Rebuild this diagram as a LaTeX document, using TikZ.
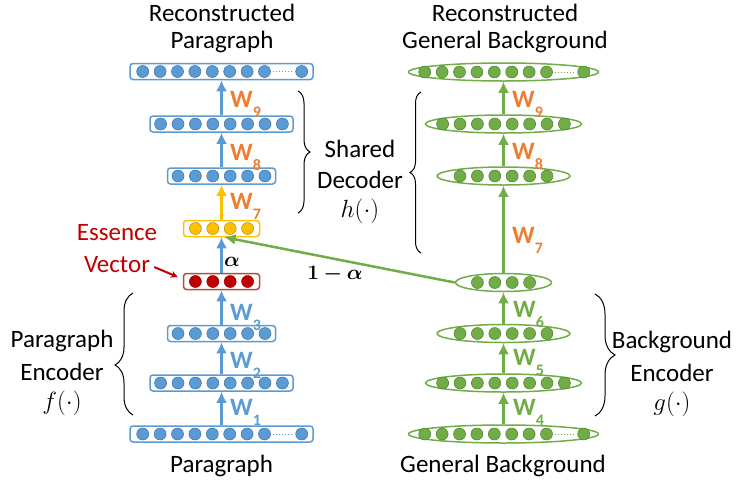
\documentclass[tikz,border=0pt]{standalone}
\usepackage{fontspec}
\setmainfont{Carlito}
\usepackage{amsmath}
\usepackage{bm}
\usetikzlibrary{shapes.geometric,arrows.meta,decorations.pathreplacing}

\definecolor{pblue}{HTML}{5B9BD5}
\definecolor{pbluedk}{HTML}{41719C}
\definecolor{pgreen}{HTML}{70AD47}
\definecolor{pgreendk}{HTML}{507E32}
\definecolor{porange}{HTML}{ED7D31}
\definecolor{pyellow}{HTML}{FFC000}
\definecolor{pyellowdk}{HTML}{BC8C00}
\definecolor{pred}{HTML}{C00000}
\definecolor{predbox}{HTML}{B0503C}

\newcommand{\dotgap}{17.4}
% #2 dots centred in node #1
\newcommand{\dotrow}[3]{%
  \foreach \k in {1,...,#2}
    \path[#3] ([xshift={(\k-(#2+1)/2)*\dotgap*1pt}]#1.center) circle (6pt);
}
% input/output row: 8 dots, dotted gap, last dot
\newcommand{\longrow}[3]{%
  \foreach \k in {0,...,7}
    \path[#2] ([xshift={(-78.8+\k*\dotgap)*1pt}]#1.center) circle (6pt);
  \draw[#3, dotted, line width=1pt] ([xshift=51.5pt]#1.center) -- ([xshift=70.5pt]#1.center);
  \path[#2] ([xshift=80.2pt]#1.center) circle (6pt);
}
\newcommand{\wsub}[1]{W\raisebox{-10pt}{\fontsize{16}{16}\selectfont#1}}
% three-line label: two words and a function
\newcommand{\partlabel}[4]{\begin{tabular}[t]{@{}c@{}}#1\\#2\\[#4]$#3(\cdot)$\end{tabular}}

\begin{document}
\begin{tikzpicture}[x=1pt, y=-1pt,
    blayer/.style={draw=pblue, line width=1.5pt, rounded corners=3pt, fill=white, minimum height=16pt, inner sep=0pt},
    glayer/.style={ellipse, draw=pgreen, line width=1.5pt, fill=white, minimum height=18pt, inner sep=0pt},
    bdot/.style={fill=pblue, draw=pbluedk, line width=0.5pt},
    gdot/.style={fill=pgreen, draw=pgreendk, line width=0.5pt},
    ydot/.style={fill=pyellow, draw=pyellowdk, line width=0.5pt},
    rdot/.style={fill=pred, draw=pred!70!black, line width=0.5pt},
    flow/.style={line width=2.5pt, -{Latex[length=11pt,width=11pt]}},
    txt/.style={font=\fontsize{25}{30}\selectfont, anchor=base, inner sep=0pt},
    lbl/.style={font=\fontsize{25}{33}\selectfont, anchor=base, inner sep=0pt},
    mth/.style={font=\fontsize{20}{24}\selectfont, anchor=base, inner sep=0pt},
    wlab/.style={font=\fontsize{25}{28}\selectfont\bfseries, anchor=base west, inner sep=0pt},
    curly/.style={decorate, decoration={brace, amplitude=#1}, line width=1pt}]
    \useasboundingbox (0,0) rectangle (737,483);

    % Paragraph side
    \node[blayer, minimum width=183pt] (para) at (221.5,434) {};
    \node[blayer, minimum width=143pt] (enc1) at (221.5,383) {};
    \node[blayer, minimum width=108pt] (enc2) at (221.5,333.5) {};
    \node[blayer, draw=predbox, minimum width=76pt] (essence) at (221.5,281.5) {};
    \node[blayer, draw=pyellow, minimum width=76pt] (mix) at (221.5,228.5) {};
    \node[blayer, minimum width=108pt] (dec1) at (221.5,176) {};
    \node[blayer, minimum width=143pt] (dec2) at (221.5,124) {};
    \node[blayer, minimum width=183pt] (recpara) at (221.5,71.5) {};

    \longrow{para}{bdot}{pblue}
    \dotrow{enc1}{8}{bdot}
    \dotrow{enc2}{6}{bdot}
    \dotrow{essence}{4}{rdot}
    \dotrow{mix}{4}{ydot}
    \dotrow{dec1}{6}{bdot}
    \dotrow{dec2}{8}{bdot}
    \longrow{recpara}{bdot}{pblue}

    % Background side
    \node[glayer, minimum width=190pt] (bg) at (503.5,434) {};
    \node[glayer, minimum width=156pt] (benc1) at (503.5,383) {};
    \node[glayer, minimum width=133pt] (benc2) at (503.5,333.5) {};
    \node[glayer, minimum width=96pt] (bcode) at (503.5,282.5) {};
    \node[glayer, minimum width=133pt] (bdec1) at (503.5,176) {};
    \node[glayer, minimum width=156pt] (bdec2) at (503.5,124) {};
    \node[glayer, minimum width=190pt] (recbg) at (503.5,72) {};

    \longrow{bg}{gdot}{pgreen}
    \dotrow{benc1}{8}{gdot}
    \dotrow{benc2}{6}{gdot}
    \dotrow{bcode}{4}{gdot}
    \dotrow{bdec1}{6}{gdot}
    \dotrow{bdec2}{8}{gdot}
    \longrow{recbg}{gdot}{pgreen}

    % arrows
    \draw[flow, pblue] (para) -- (enc1);
    \draw[flow, pblue] (enc1) -- (enc2);
    \draw[flow, pblue] (enc2) -- (essence);
    \draw[flow, pblue] (essence) -- (mix);
    \draw[flow, pyellow] (mix) -- (dec1);
    \draw[flow, pblue] (dec1) -- (dec2);
    \draw[flow, pblue] (dec2) -- (recpara);

    \draw[flow, pgreen] (bg) -- (benc1);
    \draw[flow, pgreen] (benc1) -- (benc2);
    \draw[flow, pgreen] (benc2) -- (bcode);
    \draw[flow, pgreen] (bcode) -- (bdec1);
    \draw[flow, pgreen] (bdec1) -- (bdec2);
    \draw[flow, pgreen] (bdec2) -- (recbg);
    \draw[flow, pgreen] (bcode.west) -- ([xshift=3pt]mix.south);

    % weights
    \node[wlab, text=porange] (w9) at (230,107) {\wsub{9}};
    \node[wlab, text=porange] (w8) at (230,160) {\wsub{8}};
    \node[wlab, text=porange] (w7) at (230,209) {\wsub{7}};
    \node[wlab, text=pblue] (w3) at (230,320) {\wsub{3}};
    \node[wlab, text=pblue] (w2) at (230,368) {\wsub{2}};
    \node[wlab, text=pblue] (w1) at (230,415) {\wsub{1}};

    \node[wlab, text=porange] (bw9) at (512,107) {\wsub{9}};
    \node[wlab, text=porange] (bw8) at (512,159) {\wsub{8}};
    \node[wlab, text=porange] (bw7) at (512,243) {\wsub{7}};
    \node[wlab, text=pgreen] (bw6) at (513,317) {\wsub{6}};
    \node[wlab, text=pgreen] (bw5) at (513,365) {\wsub{5}};
    \node[wlab, text=pgreen] (bw4) at (513,415) {\wsub{4}};

    \node[mth] (alpha) at (232,266) {$\bm{\alpha}$};
    \node[mth] (oneminus) at (335,279) {$\bm{1-\alpha}$};

    % titles
    \node[txt] (ttlL1) at (222,21) {Reconstructed};
    \node[txt] (ttlL2) at (222,48) {Paragraph};
    \node[txt] (ttlR1) at (505,21) {Reconstructed};
    \node[txt] (ttlR2) at (505,48) {General Background};
    \node[txt] (inL) at (221.5,472) {Paragraph};
    \node[txt] (inR) at (503,472) {General Background};

    % essence vector
    \node[txt, text=pred] (ess) at (117,240) {Essence};
    \node[txt, text=pred] (vec) at (117,272) {Vector};
    \draw[pred, line width=2pt, -{Stealth[length=7pt,width=7pt]}] ([xshift=4pt,yshift=5pt]vec.base east) -- ([xshift=-5pt,yshift=4.5pt]essence.west);

    % braces and their labels
    \draw[curly=12pt] (298,91) -- (298,213);
    \node[lbl, font=\fontsize{25}{31}\selectfont] (shdec) at (360,157) {\partlabel{Shared}{Decoder}{h}{-2pt}};

    \draw[curly=11pt] (421,253) -- (421,92);

    \draw[decorate, decoration={brace, amplitude=18pt, aspect=0.41}, line width=1pt] (133,415) -- (133,293);
    \node[lbl] (paraenc) at (62,347) {\partlabel{Paragraph}{Encoder}{f}{-4pt}};

    \draw[curly=20pt] (595,294) -- (595,416);
    \node[lbl] (bgenc) at (672,348) {\partlabel{Background}{Encoder}{g}{-4pt}};

\end{tikzpicture}
\end{document}
